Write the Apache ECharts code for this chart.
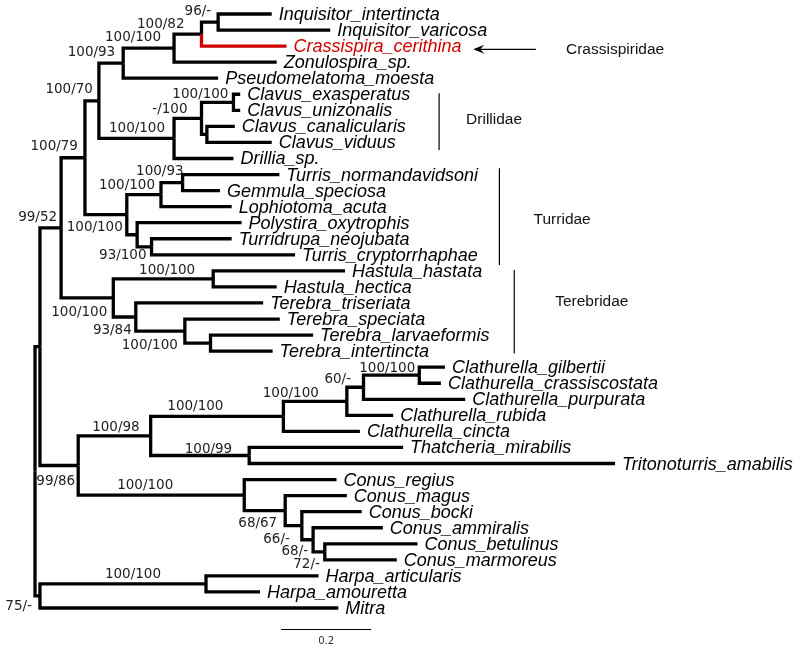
<!DOCTYPE html>
<html><head><meta charset="utf-8">
<script src="https://cdn.jsdelivr.net/npm/echarts@6/dist/echarts.min.js"></script>
<style>html,body{margin:0;padding:0;background:#fff}#c{width:800px;height:649px}</style>
</head><body><div id="c"></div>
<script>
// ---------- DATA ----------
const leafNames = ['Inquisitor_intertincta','Inquisitor_varicosa','Crassispira_cerithina','Zonulospira_sp.','Pseudomelatoma_moesta',
  'Clavus_exasperatus','Clavus_unizonalis','Clavus_canalicularis','Clavus_viduus','Drillia_sp.',
  'Turris_normandavidsoni','Gemmula_speciosa','Lophiotoma_acuta','Polystira_oxytrophis','Turridrupa_neojubata','Turris_cryptorrhaphae',
  'Hastula_hastata','Hastula_hectica','Terebra_triseriata','Terebra_speciata','Terebra_larvaeformis','Terebra_intertincta',
  'Clathurella_gilbertii','Clathurella_crassiscostata','Clathurella_purpurata','Clathurella_rubida','Clathurella_cincta',
  'Thatcheria_mirabilis','Tritonoturris_amabilis',
  'Conus_regius','Conus_magus','Conus_bocki','Conus_ammiralis','Conus_betulinus','Conus_marmoreus',
  'Harpa_articularis','Harpa_amouretta','Mitra'];
const leafParent = ['A1','A1','A2','A3','A4','D1','D1','D3','D3','D4','T1','T1','T2','T3','T4','T4','H1','H1','E3','E2','E1','E1',
  'C1','C1','C2','C3','C4','Th','Th','Co5','Co4','Co3','Co2','Co1','Co1','Hp','Hp','M'];
// distance from root (substitutions/site)
const leafDepth = [0.526,0.656,0.559,0.537,0.407,0.456,0.456,0.444,0.526,0.441,0.543,0.411,0.437,0.459,0.437,0.578,
  0.689,0.537,0.507,0.544,0.618,0.528,0.911,0.902,0.956,0.796,0.722,0.818,1.289,0.670,0.693,0.726,0.773,0.850,0.804,
  0.630,0.500,0.674];
const nodeNames = ['root','N40','M','A7','A6','A5','A4','A3','A2','A1','D4','D2','D1','D3','T5','T2','T1','T3','T4',
  'E4','H1','E3','E2','E1','K','C5','C4','C3','C2','C1','Th','Co5','Co4','Co3','Co2','Co1','Hp'];
const nodeParent = [null,'root','root','N40','A7','A6','A5','A4','A3','A2','A5','D4','D2','D2','A6','T5','T2','T5','T3',
  'A7','E4','E4','E3','E2','N40','K','C5','C4','C3','C2','C5','K','Co5','Co4','Co3','Co2','M'];
const nodeDepth = [0,0.011,0.011,0.058,0.111,0.142,0.196,0.309,0.370,0.407,0.309,0.370,0.441,0.382,0.204,0.280,0.328,0.227,0.259,
  0.174,0.396,0.224,0.333,0.390,0.096,0.257,0.552,0.693,0.730,0.854,0.476,0.465,0.556,0.593,0.618,0.644,0.380];
const supportNode = ['A1','A2','A3','A4','A5','D1','D2','D4','A6','T1','T2','T5','T4','A7','H1','E4','E3','E2',
  'C1','C2','C3','C4','C5','Th','K','Co5','Co4','Co3','Co2','Co1','Hp','M'];
const supportText = ['96/-','100/82','100/100','100/93','100/70','100/100','-/100','100/100','100/79','100/93','100/100','100/100','93/100','99/52','100/100','100/100','93/84','100/100',
  '100/100','60/-','100/100','100/100','100/98','100/99','99/86','100/100','68/67','66/-','68/-','72/-','100/100','75/-'];
const highlightLeaf = 'Crassispira_cerithina';
const cladeNames = ['Crassispiridae','Drillidae','Turridae','Terebridae'];
const scaleBarLength = 0.2;
const scaleBarText = '0.2';

// ---------- LAYOUT (positions / styles) ----------
// support label offsets in px: [dx from node x (right edge), dy from node y (text centre)]
const supportOffset = {A1:[-7,-11],A2:[-17,-10],A3:[-13,-11],A4:[-8,-10.5],A5:[-6,-11.5],D1:[-5,-8],D2:[-14,-8.5],D4:[-9,-9.5],
  A6:[-7,-11],T1:[1,-11],T2:[-6,-9.5],T5:[-4,13],T4:[-5,8.5],A7:[-4,-10],H1:[-18,-8],E4:[-6,14.5],E3:[-4,13.5],E2:[-7,14],
  C1:[-4,-7],C2:[-12.5,-7.5],C3:[-28,-8],C4:[-60,-9.5],C5:[-11,-8.5],Th:[-17,-5.5],K:[-3,16],Co5:[-71,-10],Co4:[-8,12.5],
  Co3:[-12,14],Co2:[-5,12],Co1:[-5,13],Hp:[-45,-9],M:[-8,11]};
// clade annotations, in axis units (x = depth, y = row)
const cladeLayout = [
  {type:'arrow', row:2.2, x0:1.113, x1:0.974, tx:1.18, trow:2.2},
  {type:'bar', x:0.898, r0:4.94, r1:8.47, tx:0.958, trow:6.6},
  {type:'bar', x:1.032, r0:9.61, r1:15.64, tx:1.108, trow:12.83},
  {type:'bar', x:1.065, r0:15.95, r1:21.14, tx:1.156, trow:17.93}
];
const scaleBarLayout = {x0:0.547, row:38.34, textRow:39.1};

// ---------- BUILD TREE ----------
const info = {};
nodeNames.forEach((n,i)=>{ info[n] = {name:n, parent:nodeParent[i], depth:nodeDepth[i], children:[], leaf:false}; });
leafNames.forEach((n,i)=>{ info[n] = {name:n, parent:leafParent[i], depth:leafDepth[i], children:[], leaf:true, row:i}; info[leafParent[i]].children.push(n); });
nodeNames.forEach((n,i)=>{ if (nodeParent[i]) info[nodeParent[i]].children.push(n); });
function rowOf(n){ const o = info[n]; if (o.row !== undefined) return o.row;
  const rs = o.children.map(rowOf); o.row = (Math.min(...rs)+Math.max(...rs))/2; return o.row; }
rowOf('root');

const branches = [];
Object.keys(info).forEach(n=>{ const o = info[n]; if (!o.parent) return; const p = info[o.parent];
  branches.push([o.depth, o.row, p.depth, p.row, n === highlightLeaf ? 1 : 0]); });
const leafData = leafNames.map((n,i)=>[leafDepth[i], i, i]);
const supportData = supportNode.map((n,i)=>[info[n].depth, info[n].row, i]);

const RED = '#d10000';
const chart = echarts.init(document.getElementById('c'), null, {renderer:'canvas'});
chart.setOption({
  animation:false,
  backgroundColor:'#fff',
  grid:{left:35, right:0, top:14, bottom:41},
  xAxis:{type:'value', min:0, max:1.7, show:false},
  yAxis:{type:'value', min:0, max:37, inverse:true, show:false},
  series:[
    {type:'custom', coordinateSystem:'cartesian2d', data:branches, silent:true,
     renderItem:(params, api)=>{
       const d = branches[params.dataIndex];
       const p0 = api.coord([d[2], d[3]]), p1 = api.coord([d[2], d[1]]), p2 = api.coord([d[0], d[1]]);
       return {type:'polyline', shape:{points:[p0,p1,p2]},
         style:{stroke: d[4] ? RED : '#000', lineWidth:3.3, fill:null, lineJoin:'miter', lineCap:'butt'}};
     }},
    {type:'custom', coordinateSystem:'cartesian2d', data:leafData, silent:true,
     renderItem:(params, api)=>{
       const d = leafData[params.dataIndex]; const p = api.coord([d[0], d[1]]);
       const name = leafNames[d[2]];
       return {type:'text', x:p[0]+7, y:p[1]+1,
         style:{text:name, font:'italic 18px "Liberation Sans", Arial, sans-serif', fill: name===highlightLeaf ? RED : '#000',
           textAlign:'left', textVerticalAlign:'middle', align:'left', verticalAlign:'middle'}};
     }},
    {type:'custom', coordinateSystem:'cartesian2d', data:supportData, silent:true,
     renderItem:(params, api)=>{
       const d = supportData[params.dataIndex]; const p = api.coord([d[0], d[1]]);
       const off = supportOffset[supportNode[d[2]]];
       return {type:'text', x:p[0]+off[0], y:p[1]+off[1],
         style:{text:supportText[d[2]], font:'13.5px "DejaVu Sans", sans-serif', fill:'#222',
           textAlign:'right', textVerticalAlign:'middle', align:'right', verticalAlign:'middle'}};
     }},
    {type:'custom', coordinateSystem:'cartesian2d', data:cladeLayout.map((c,i)=>[c.tx, c.trow, i]), silent:true,
     renderItem:(params, api)=>{
       const c = cladeLayout[params.dataIndex]; const kids = [];
       if (c.type === 'arrow') {
         const a = api.coord([c.x0, c.row]), b = api.coord([c.x1, c.row]);
         kids.push({type:'line', shape:{x1:a[0], y1:a[1], x2:b[0]+2, y2:b[1]}, style:{stroke:'#000', lineWidth:1.2}});
         kids.push({type:'polygon', shape:{points:[[b[0],b[1]],[b[0]+11,b[1]-4.5],[b[0]+7,b[1]],[b[0]+11,b[1]+4.5]]}, style:{fill:'#000'}});
       } else {
         const a = api.coord([c.x, c.r0]), b = api.coord([c.x, c.r1]);
         kids.push({type:'line', shape:{x1:a[0], y1:a[1], x2:b[0], y2:b[1]}, style:{stroke:'#000', lineWidth:1.2}});
       }
       const t = api.coord([c.tx, c.trow]);
       kids.push({type:'text', x:t[0], y:t[1], style:{text:cladeNames[params.dataIndex], font:'15.5px "Liberation Sans", Arial, sans-serif', fill:'#111',
         textAlign:'left', textVerticalAlign:'middle', align:'left', verticalAlign:'middle'}});
       return {type:'group', children:kids};
     }},
    {type:'custom', coordinateSystem:'cartesian2d', data:[[scaleBarLayout.x0, scaleBarLayout.row]], silent:true,
     renderItem:(params, api)=>{
       const a = api.coord([scaleBarLayout.x0, scaleBarLayout.row]);
       const b = api.coord([scaleBarLayout.x0 + scaleBarLength, scaleBarLayout.row]);
       const t = api.coord([scaleBarLayout.x0 + scaleBarLength/2, scaleBarLayout.textRow]);
       return {type:'group', children:[
         {type:'line', shape:{x1:a[0], y1:a[1], x2:b[0], y2:b[1]}, style:{stroke:'#000', lineWidth:1}},
         {type:'text', x:t[0], y:t[1], style:{text:scaleBarText, font:'10px "DejaVu Sans", sans-serif', fill:'#333',
           textAlign:'center', textVerticalAlign:'middle', align:'center', verticalAlign:'middle'}}
       ]};
     }}
  ]
});
</script>
</body></html>
